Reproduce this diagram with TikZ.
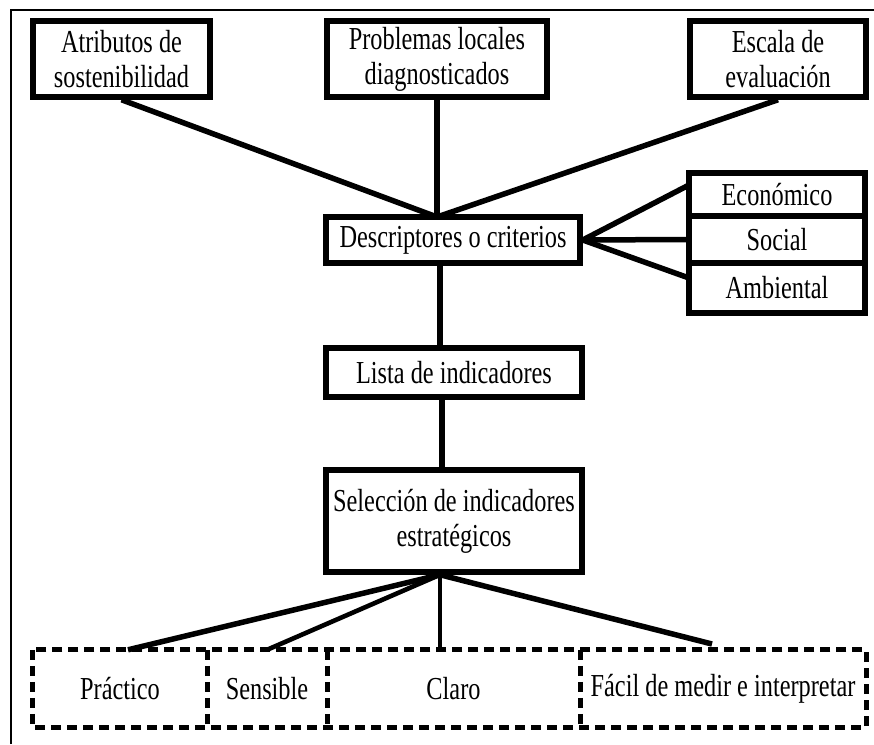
\documentclass[tikz,border=0pt]{standalone}
\usepackage{fontspec}
\setmainfont{Liberation Serif}[FakeStretch=0.76]
\usetikzlibrary{calc}
\begin{document}
\begin{tikzpicture}[x=1pt,y=-1pt,
  labelfont/.style={font=\fontsize{32}{35}\selectfont},
  solidbox/.style={draw, line width=5.5pt, rectangle, inner sep=0pt, align=center, labelfont},
  cell/.style={rectangle, inner sep=0pt, align=center, labelfont},
  dashline/.style={line width=5pt, dash pattern=on 10pt off 6pt},
  link/.style={line width=5.5pt},
  thinlink/.style={line width=4.6pt}]
\useasboundingbox (0,0) rectangle (874,744);
% outer frame
\draw[line width=2.6pt] (11,744) -- (11,10) -- (874,10);

% top row
\node[solidbox, minimum width=177pt, minimum height=76pt] (atr) at (121.5,59) {Atributos de\\sostenibilidad};
\node[solidbox, minimum width=220pt, minimum height=76pt] (prob) at (437,59) {Problemas locales\\diagnosticados};
\node[solidbox, minimum width=176pt, minimum height=76pt] (esc) at (778,59) {Escala de\\evaluación};

% criteria
\node[solidbox, minimum width=254pt, minimum height=46pt] (desc) at (453,240) {Descriptores o criterios};
\node[solidbox, minimum width=176pt, minimum height=43pt] (eco) at (777,194.5) {Económico};
\node[solidbox, minimum width=176pt, minimum height=47pt] (soc) at (777,239.5) {Social};
\node[solidbox, minimum width=176pt, minimum height=50pt] (amb) at (777,288) {Ambiental};

% indicator lists
\node[solidbox, minimum width=256pt, minimum height=49pt] (lista) at (454,372.5) {Lista de indicadores};
\node[solidbox, minimum width=256pt, minimum height=102pt] (sel) at (454,521) {Selección de indicadores\\estratégicos};

% properties: a row of dashed cells
\node[cell, minimum width=174pt, minimum height=77pt] (prac) at (120,688.5) {Práctico};
\node[cell, minimum width=120pt, minimum height=77pt] (sens) at (267,688.5) {Sensible};
\node[cell, minimum width=253pt, minimum height=77pt] (claro) at (453.5,688.5) {Claro};
\node[cell, minimum width=286pt, minimum height=77pt] (facil) at (723,688.5) {Fácil de medir e interpretar};
\draw[dashline] (prac.north west) rectangle (facil.south east);
\draw[dashline] (prac.north east) -- (prac.south east);
\draw[dashline] (sens.north east) -- (sens.south east);
\draw[dashline] (claro.north east) -- (claro.south east);

% junction points
\coordinate (dtop) at (437,217);
\coordinate (spineA) at (440,0);
\coordinate (spineB) at (442,0);
\coordinate (ecoIn) at (689,185);
\coordinate (ambIn) at (689,278);
\coordinate (pracIn) at (128,0);
\coordinate (facilIn) at (712,644);

% connectors
\draw[link] (atr.south) -- (dtop);
\draw[link] (prob.south) -- (dtop);
\draw[link] (esc.south) -- (dtop);
\draw[link] (desc.east) -- (ecoIn);
\draw[link] (desc.east) -- (soc.west);
\draw[link] (desc.east) -- (ambIn);
\draw[link] (desc.south -| spineA) -- (lista.north -| spineA);
\draw[link] (lista.south -| spineB) -- (sel.north -| spineB);
\draw[link] (sel.south -| spineA) -- (prac.north -| pracIn);
\draw[thinlink] (sel.south -| spineA) -- (sens.north);
\draw[thinlink] (sel.south -| spineA) -- (claro.north -| spineA);
\draw[link] (sel.south -| spineA) -- (facilIn);
\end{tikzpicture}
\end{document}
